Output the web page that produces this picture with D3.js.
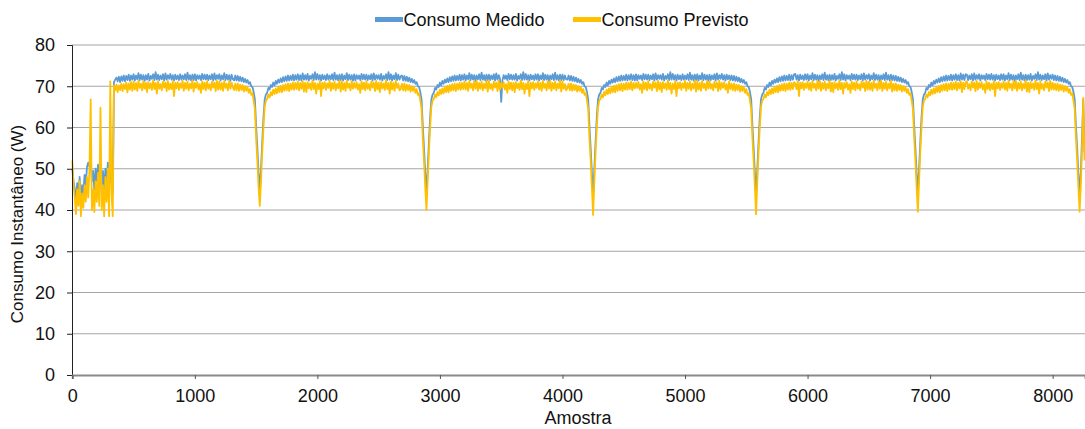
<!DOCTYPE html>
<html><head><meta charset="utf-8">
<script src="https://cdn.jsdelivr.net/npm/d3@7"></script>
<style>body{margin:0;background:#fff}svg{display:block}</style>
</head><body>
<script>
// one value every 10 samples ("Amostra"), starting at sample 0; each row = 100 samples
const sampleStep = 10;
const seriesNames = ["Consumo Medido", "Consumo Previsto"];
const seriesColors = ["#5B9BD5", "#FFC000"];
const yTicks = [0, 10, 20, 30, 40, 50, 60, 70, 80];
const xTicks = [0, 1000, 2000, 3000, 4000, 5000, 6000, 7000, 8000];

const medido = [
50,47,45,43,46.5,44,48,42,46,44,
48.5,46,50.5,51.5,50.5,52,47,49.5,45,50,
47,51,46,50,44,49.5,45,50,46,51.5,
44,53,47,44,71.0,71.6,72.1,71.2,72.3,71.0,
72.4,71.3,72.6,71.2,72.5,71.5,72.8,71.3,72.6,71.6,
72.9,71.4,72.6,71.7,73.2,71.5,72.8,71.6,72.7,71.3,
72.7,71.6,73.0,71.4,72.5,71.8,72.9,71.5,73.4,71.6,
72.8,71.5,72.6,71.7,72.9,71.4,73.1,71.6,72.7,71.8,
73.0,71.6,72.7,71.4,72.8,71.7,72.6,71.5,72.9,71.6,
72.6,71.7,72.9,71.5,73.3,71.6,72.7,71.4,72.8,71.5,
72.9,71.4,72.7,71.8,72.6,71.5,73.0,71.7,72.8,71.6,
72.8,71.5,72.6,71.7,72.9,71.4,73.1,71.6,72.7,71.8,
72.9,71.4,72.6,71.7,73.2,71.5,72.8,71.6,72.7,71.3,
72.8,71.7,71.4,72.6,71.4,72.5,71.3,72.3,71.2,72.1,
71.0,71.8,70.9,71.5,70.6,71.0,70.0,69.8,68.6,66.8,
60.5,55.0,49.0,45.0,50.0,56.5,62.5,66.8,68.0,68.4,
69.6,69.2,70.3,69.8,70.9,70.2,71.3,70.6,71.6,70.9,
71.9,71.0,72.2,71.2,72.4,71.3,72.6,71.4,72.5,71.5,
72.8,71.4,72.7,71.6,72.9,71.5,72.7,71.4,73.1,71.6,
72.7,71.6,73.0,71.4,72.5,71.8,72.9,71.5,73.4,71.6,
73.0,71.6,72.7,71.4,72.8,71.7,72.6,71.5,72.9,71.6,
72.6,71.7,72.9,71.5,73.3,71.6,72.7,71.4,72.8,71.5,
72.9,71.4,72.6,71.7,73.2,71.5,72.8,71.6,72.7,71.3,
72.9,71.4,72.7,71.8,72.6,71.5,73.0,71.7,72.8,71.6,
72.8,71.5,72.6,71.7,72.9,71.4,73.1,71.6,72.7,71.8,
72.7,71.6,73.0,71.4,72.5,71.8,72.9,71.5,73.4,71.6,
72.9,71.4,72.6,71.7,73.2,71.5,72.8,71.6,72.4,72.6,
71.4,72.5,71.3,72.3,71.2,72.1,71.0,71.8,70.9,71.5,
70.6,71.0,70.0,69.8,68.6,66.8,60.5,55.0,49.0,44.0,
50.0,56.5,62.5,66.8,68.0,68.4,69.6,69.2,70.3,69.8,
70.9,70.2,71.3,70.6,71.6,70.9,71.9,71.0,72.2,71.2,
72.4,71.3,72.6,71.4,72.5,71.5,72.8,71.4,72.7,71.6,
72.9,71.4,72.6,71.7,73.2,71.5,72.8,71.6,72.7,71.3,
72.6,71.7,72.9,71.5,73.3,71.6,72.7,71.4,72.8,71.5,
72.8,71.5,72.6,71.7,72.9,71.4,73.1,71.6,72.7,71.8,
66.2,71.4,72.7,71.8,72.6,71.5,73.0,71.7,72.8,71.6,
72.7,71.6,73.0,71.4,72.5,71.8,72.9,71.5,73.4,71.6,
73.0,71.6,72.7,71.4,72.8,71.7,72.6,71.5,72.9,71.6,
72.9,71.4,72.6,71.7,73.2,71.5,72.8,71.6,72.7,71.3,
72.6,71.7,72.9,71.5,73.3,71.6,72.7,71.4,72.8,71.5,
72.8,71.5,72.6,71.7,71.6,72.6,71.4,72.5,71.3,72.3,
71.2,72.1,71.0,71.8,70.9,71.5,70.6,71.0,70.0,69.8,
68.6,66.8,60.5,55.0,49.0,43.5,50.0,56.5,62.5,66.8,
68.0,68.4,69.6,69.2,70.3,69.8,70.9,70.2,71.3,70.6,
71.6,70.9,71.9,71.0,72.2,71.2,72.4,71.3,72.6,71.4,
72.5,71.5,72.8,71.4,72.7,71.6,72.9,71.5,72.7,71.4,
72.9,71.4,72.7,71.8,72.6,71.5,73.0,71.7,72.8,71.6,
72.8,71.5,72.6,71.7,72.9,71.4,73.1,71.6,72.7,71.8,
72.7,71.6,73.0,71.4,72.5,71.8,72.9,71.5,73.4,71.6,
73.0,71.6,72.7,71.4,72.8,71.7,72.6,71.5,72.9,71.6,
72.6,71.7,72.9,71.5,73.3,71.6,72.7,71.4,72.8,71.5,
72.9,71.4,72.6,71.7,73.2,71.5,72.8,71.6,72.7,71.3,
72.8,71.5,72.6,71.7,72.9,71.4,73.1,71.6,72.7,71.8,
73.0,71.6,72.7,71.4,72.8,71.7,72.6,71.5,72.6,71.4,
72.5,71.3,72.3,71.2,72.1,71.0,71.8,70.9,71.5,70.6,
71.0,70.0,69.8,68.6,66.8,60.5,55.0,49.0,43.5,50.0,
56.5,62.5,66.8,68.0,68.4,69.6,69.2,70.3,69.8,70.9,
70.2,71.3,70.6,71.6,70.9,71.9,71.0,72.2,71.2,72.4,
71.3,72.6,71.4,72.5,71.5,72.8,71.4,72.7,71.6,72.9,
73.0,71.6,72.7,71.4,72.8,71.7,72.6,71.5,72.9,71.6,
72.9,71.4,72.6,71.7,73.2,71.5,72.8,71.6,72.7,71.3,
72.6,71.7,72.9,71.5,73.3,71.6,72.7,71.4,72.8,71.5,
72.7,71.6,73.0,71.4,72.5,71.8,72.9,71.5,73.4,71.6,
72.9,71.4,72.7,71.8,72.6,71.5,73.0,71.7,72.8,71.6,
72.8,71.5,72.6,71.7,72.9,71.4,73.1,71.6,72.7,71.8,
72.9,71.4,72.6,71.7,73.2,71.5,72.8,71.6,72.7,71.3,
72.6,71.7,72.9,71.5,73.3,71.6,72.7,71.4,72.8,71.5,
72.6,71.4,72.5,71.3,72.3,71.2,72.1,71.0,71.8,70.9,
71.5,70.6,71.0,70.0,69.8,68.6,66.8,60.5,55.0,49.0,
44.0,50.0,56.5,62.5,66.8,68.0,68.4,69.6,69.2,70.3,
69.8,70.9,70.2,71.3,70.6,71.6,70.9,71.9,71.0,72.2,
71.2,72.4,71.3,72.6,71.4,72.5,71.5,72.8,71.4,72.7,
71.6,72.9,71.5,72.7,71.4,73.1,71.6,72.8,71.5,72.9,
72.8,71.5,72.6,71.7,72.9,71.4,73.1,71.6,72.7,71.8,
72.9,71.4,72.7,71.8,72.6,71.5,73.0,71.7,72.8,71.6,
73.0,71.6,72.7,71.4,72.8,71.7,72.6,71.5,72.9,71.6,
72.9,71.4,72.6,71.7,73.2,71.5,72.8,71.6,72.7,71.3,
72.6,71.7,72.9,71.5,73.3,71.6,72.7,71.4,72.8,71.5,
72.7,71.6,73.0,71.4,72.5,71.8,72.9,71.5,73.4,71.6,
72.8,71.5,72.6,71.7,72.9,71.4,73.1,71.6,72.7,71.8,
72.8,71.5,72.6,71.4,72.5,71.3,72.3,71.2,72.1,71.0,
71.8,70.9,71.5,70.6,71.0,70.0,69.8,68.6,66.8,60.5,
55.0,49.0,44.0,49.0,58.0,66.8,54.0
];

const previsto = [
52,46,43,39,45,41,47,38.5,44,40.5,
46,42,48,43,50,66.8,40,45,39.5,47,
42,49,41,64.8,40,46,38.5,48,42,50,
38.5,71.2,44,38.5,70.2,69.0,70.4,68.6,70.2,69.1,
70.6,68.8,70.5,69.3,70.9,68.5,70.7,69.2,71.0,68.9,
71.1,69.2,70.8,68.9,71.3,69.6,70.6,69.0,71.2,69.4,
70.9,68.6,71.0,69.5,70.7,69.1,71.4,69.3,70.8,68.2,
71.2,69.4,70.5,69.0,71.1,69.7,70.9,68.8,71.3,69.2,
70.6,69.3,71.2,67.6,70.9,69.5,71.0,69.1,70.7,69.6,
71.3,68.9,70.8,69.4,71.1,69.0,70.6,69.5,71.4,68.7,
70.8,69.6,71.0,69.2,70.5,68.4,71.2,69.3,70.9,69.0,
71.2,69.4,70.5,69.0,71.1,69.7,70.9,68.8,71.3,69.2,
71.1,69.2,70.8,68.9,71.3,69.6,70.6,69.0,71.2,69.4,
70.9,69.8,69.1,70.6,69.0,70.7,68.9,70.4,69.1,70.3,
68.7,70.0,68.9,69.8,68.4,69.3,67.9,68.3,66.5,64.5,
57.5,52.0,45.5,41.0,47.0,54.0,60.0,65.0,66.5,66.9,
68.0,67.3,68.6,67.8,69.2,68.1,69.5,68.3,69.8,68.6,
70.1,68.5,70.3,68.9,70.5,69.0,70.7,68.8,70.6,69.2,
70.9,69.1,70.8,69.3,71.1,69.0,70.8,69.4,71.2,68.7,
70.9,68.6,71.0,69.5,70.7,69.1,71.4,69.3,70.8,68.2,
70.6,69.3,71.2,67.6,70.9,69.5,71.0,69.1,70.7,69.6,
71.3,68.9,70.8,69.4,71.1,69.0,70.6,69.5,71.4,68.7,
71.1,69.2,70.8,68.9,71.3,69.6,70.6,69.0,71.2,69.4,
70.8,69.6,71.0,69.2,70.5,68.4,71.2,69.3,70.9,69.0,
71.2,69.4,70.5,69.0,71.1,69.7,70.9,68.8,71.3,69.2,
70.9,68.6,71.0,69.5,70.7,69.1,71.4,69.3,70.8,68.2,
71.1,69.2,70.8,68.9,71.3,69.6,70.6,69.0,69.3,70.6,
69.0,70.7,68.9,70.4,69.1,70.3,68.7,70.0,68.9,69.8,
68.4,69.3,67.9,68.3,66.5,64.5,57.5,52.0,45.5,40.0,
47.0,54.0,60.0,65.0,66.5,66.9,68.0,67.3,68.6,67.8,
69.2,68.1,69.5,68.3,69.8,68.6,70.1,68.5,70.3,68.9,
70.5,69.0,70.7,68.8,70.6,69.2,70.9,69.1,70.8,69.3,
71.1,69.2,70.8,68.9,71.3,69.6,70.6,69.0,71.2,69.4,
71.3,68.9,70.8,69.4,71.1,69.0,70.6,69.5,71.4,68.7,
71.2,69.4,70.5,69.0,71.1,69.7,70.9,68.8,71.3,69.2,
70.8,69.6,71.0,69.2,70.5,68.4,71.2,69.3,70.9,69.0,
70.9,68.6,71.0,69.5,70.7,69.1,71.4,69.3,70.8,68.2,
70.6,69.3,71.2,67.6,70.9,69.5,71.0,69.1,70.7,69.6,
71.1,69.2,70.8,68.9,71.3,69.6,70.6,69.0,71.2,69.4,
71.3,68.9,70.8,69.4,71.1,69.0,70.6,69.5,71.4,68.7,
71.2,69.4,70.5,69.0,69.5,70.6,69.0,70.7,68.9,70.4,
69.1,70.3,68.7,70.0,68.9,69.8,68.4,69.3,67.9,68.3,
66.5,64.5,57.5,52.0,45.5,38.8,47.0,54.0,60.0,65.0,
66.5,66.9,68.0,67.3,68.6,67.8,69.2,68.1,69.5,68.3,
69.8,68.6,70.1,68.5,70.3,68.9,70.5,69.0,70.7,68.8,
70.6,69.2,70.9,69.1,70.8,69.3,71.1,69.0,70.8,69.5,
70.8,69.6,71.0,69.2,70.5,68.4,71.2,69.3,70.9,69.0,
71.2,69.4,70.5,69.0,71.1,69.7,70.9,68.8,71.3,69.2,
70.9,68.6,71.0,69.5,70.7,69.1,71.4,69.3,70.8,68.2,
70.6,69.3,71.2,67.6,70.9,69.5,71.0,69.1,70.7,69.6,
71.3,68.9,70.8,69.4,71.1,69.0,70.6,69.5,71.4,68.7,
71.1,69.2,70.8,68.9,71.3,69.6,70.6,69.0,71.2,69.4,
71.2,69.4,70.5,69.0,71.1,69.7,70.9,68.8,71.3,69.2,
70.8,69.6,71.0,69.2,70.5,68.4,71.2,69.3,70.6,69.0,
70.7,68.9,70.4,69.1,70.3,68.7,70.0,68.9,69.8,68.4,
69.3,67.9,68.3,66.5,64.5,57.5,52.0,45.5,39.0,47.0,
54.0,60.0,65.0,66.5,66.9,68.0,67.3,68.6,67.8,69.2,
68.1,69.5,68.3,69.8,68.6,70.1,68.5,70.3,68.9,70.5,
69.0,70.7,68.8,70.6,69.2,70.9,69.1,70.8,69.3,71.0,
70.6,69.3,71.2,67.6,70.9,69.5,71.0,69.1,70.7,69.6,
71.1,69.2,70.8,68.9,71.3,69.6,70.6,69.0,71.2,69.4,
71.3,68.9,70.8,69.4,71.1,69.0,70.6,69.5,71.4,68.7,
70.9,68.6,71.0,69.5,70.7,69.1,71.4,69.3,70.8,68.2,
70.8,69.6,71.0,69.2,70.5,68.4,71.2,69.3,70.9,69.0,
71.2,69.4,70.5,69.0,71.1,69.7,70.9,68.8,71.3,69.2,
71.1,69.2,70.8,68.9,71.3,69.6,70.6,69.0,71.2,69.4,
71.3,68.9,70.8,69.4,71.1,69.0,70.6,69.5,71.4,68.7,
70.6,69.0,70.7,68.9,70.4,69.1,70.3,68.7,70.0,68.9,
69.8,68.4,69.3,67.9,68.3,66.5,64.5,57.5,52.0,45.5,
39.6,47.0,54.0,60.0,65.0,66.5,66.9,68.0,67.3,68.6,
67.8,69.2,68.1,69.5,68.3,69.8,68.6,70.1,68.5,70.3,
68.9,70.5,69.0,70.7,68.8,70.6,69.2,70.9,69.1,70.8,
69.3,71.1,69.0,70.8,69.5,71.2,68.6,70.9,69.3,71.0,
71.2,69.4,70.5,69.0,71.1,69.7,70.9,68.8,71.3,69.2,
70.8,69.6,71.0,69.2,70.5,68.4,71.2,69.3,70.9,69.0,
70.6,69.3,71.2,67.6,70.9,69.5,71.0,69.1,70.7,69.6,
71.1,69.2,70.8,68.9,71.3,69.6,70.6,69.0,71.2,69.4,
71.3,68.9,70.8,69.4,71.1,69.0,70.6,69.5,71.4,68.7,
70.9,68.6,71.0,69.5,70.7,69.1,71.4,69.3,70.8,68.2,
71.2,69.4,70.5,69.0,71.1,69.7,70.9,68.8,71.3,69.2,
70.9,69.2,70.6,69.0,70.7,68.9,70.4,69.1,70.3,68.7,
70.0,68.9,69.8,68.4,69.3,67.9,68.3,66.5,64.5,57.5,
52.0,45.5,39.6,46.0,55.0,67.2,52.0
];

const W = 1085, H = 429;
const font = "'Liberation Sans', Arial, Helvetica, sans-serif";
const svg = d3.select("body").append("svg").attr("width", W).attr("height", H)
  .style("font-family", font);

const x = d3.scaleLinear().domain([0, 8264]).range([72.3, 1085]);
const y = d3.scaleLinear().domain([0, 80]).range([375, 45]);

// gridlines
svg.append("g").selectAll("line").data(yTicks.filter(d => d > 0)).join("line")
  .attr("x1", 72).attr("x2", W).attr("y1", d => y(d)).attr("y2", d => y(d))
  .attr("stroke", "#a6a6a6").attr("stroke-width", 1.2);

// series
const line = d3.line().x((d, i) => x(i * sampleStep)).y(d => y(d));
[medido, previsto].forEach((s, k) => {
  svg.append("path").datum(s).attr("d", line).attr("fill", "none")
    .attr("stroke", seriesColors[k]).attr("stroke-width", 1.8)
    .attr("stroke-linejoin", "round");
});

// y axis
const yAxis = svg.append("g").attr("transform", "translate(72,0)")
  .call(d3.axisLeft(y).tickValues(yTicks).tickSize(5).tickPadding(12).tickFormat(d3.format("d")));
yAxis.select(".domain").attr("stroke", "#222").attr("stroke-width", 1);
yAxis.selectAll(".tick line").attr("stroke", "#222");
yAxis.selectAll("text").attr("font-size", 18).attr("fill", "#111").attr("font-family", font);

// x axis
const xAxis = svg.append("g").attr("transform", "translate(0,375)")
  .call(d3.axisBottom(x).tickValues(xTicks).tickSize(4).tickPadding(10).tickFormat(d3.format("d")));
xAxis.select(".domain").attr("stroke", "#8a8a8a").attr("stroke-width", 2);
xAxis.selectAll(".tick line").attr("stroke", "#555");
xAxis.selectAll("text").attr("font-size", 18).attr("fill", "#111").attr("font-family", font);

// axis titles
svg.append("text").attr("x", 578).attr("y", 424).attr("text-anchor", "middle")
  .attr("font-size", 18).attr("fill", "#111").text("Amostra");
svg.append("text").attr("transform", "translate(23,224) rotate(-90)").attr("text-anchor", "middle")
  .attr("font-size", 17).attr("fill", "#111").text("Consumo Instantâneo (W)");

// legend
const legX = [375, 573];
seriesNames.forEach((n, k) => {
  svg.append("rect").attr("x", legX[k]).attr("y", 17).attr("width", 28).attr("height", 5)
    .attr("fill", seriesColors[k]);
  svg.append("text").attr("x", legX[k] + 28.5).attr("y", 26).attr("font-size", 18)
    .attr("fill", "#111").text(n);
});
</script>
</body></html>
